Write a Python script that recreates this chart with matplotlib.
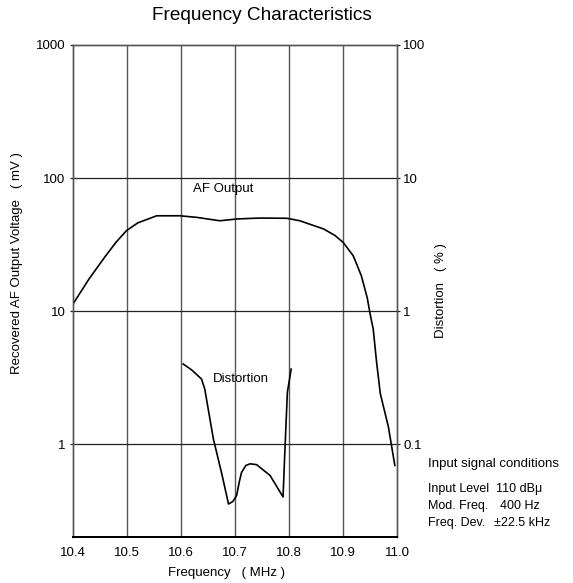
import matplotlib
matplotlib.use("Agg")
import matplotlib.pyplot as plt

plt.rcParams['font.family'] = ['Liberation Sans', 'DejaVu Sans']

# AF output (mV, left axis)
af_freq = [10.40, 10.43, 10.459, 10.48, 10.499, 10.52, 10.555, 10.598, 10.629, 10.672,
           10.703, 10.746, 10.796, 10.82, 10.864, 10.885, 10.90, 10.919, 10.934, 10.945,
           10.95, 10.956, 10.962, 10.969, 10.984, 10.996]
af_mv = [11.3, 17.5, 25.5, 33, 40.2, 46, 52, 52, 50.6, 47.7,
         49.2, 50, 49.8, 47.7, 41.4, 37, 32.9, 26, 18.4, 12.5,
         9.6, 7.3, 4.2, 2.4, 1.35, 0.69]

# Distortion (%, right axis)
dist_freq = [10.604, 10.62, 10.638, 10.644, 10.66, 10.675, 10.688, 10.696, 10.703, 10.708,
             10.712, 10.72, 10.728, 10.74, 10.765, 10.789, 10.792, 10.797, 10.804]
dist_pct = [0.40, 0.36, 0.308, 0.259, 0.109, 0.061, 0.0354, 0.037, 0.041, 0.052,
            0.061, 0.069, 0.071, 0.070, 0.058, 0.040, 0.0817, 0.245, 0.366]

x_ticks = [10.4, 10.5, 10.6, 10.7, 10.8, 10.9, 11.0]
x_labels = ['10.4', '10.5', '10.6', '10.7', '10.8', '10.9', '11.0']
left_ticks = [1, 10, 100, 1000]
left_labels = ['1', '10', '100', '1000']
right_ticks = [0.1, 1, 10, 100]
right_labels = ['0.1', '1', '10', '100']

FS = 9.5
fig = plt.figure(figsize=(5.73, 5.83), dpi=100)
ax = fig.add_axes([73/573, 1-537/583, (397-73)/573, (537-45)/583])
ax.set_yscale('log')
ax.set_xlim(10.4, 11.0)
ax.set_ylim(0.2, 1000)
grid_c = '#555555'
for x in x_ticks[1:-1]:
    ax.axvline(x, color=grid_c, lw=1.0, zorder=1)
for y in left_ticks[:-1]:
    ax.axhline(y, color='#222222', lw=0.9, zorder=1)
ax.plot(af_freq, af_mv, color='black', lw=1.2, zorder=3)

ax.set_xticks(x_ticks)
ax.set_xticklabels(x_labels)
ax.set_yticks(left_ticks)
ax.set_yticklabels(left_labels)
ax.minorticks_off()
ax.tick_params(axis='y', length=2.5, width=0.9, color='#222222', labelsize=FS, pad=3)
ax.tick_params(axis='x', length=0, labelsize=FS, pad=7.5)
for s in ax.spines.values():
    s.set_color(grid_c)
    s.set_linewidth(1.0)
ax.spines['bottom'].set_color('black')
ax.spines['bottom'].set_linewidth(1.4)

ax2 = ax.twinx()
ax2.set_yscale('log')
ax2.set_ylim(0.02, 100)
ax2.plot(dist_freq, dist_pct, color='black', lw=1.2, zorder=3)
ax2.set_yticks(right_ticks)
ax2.set_yticklabels(right_labels)
ax2.minorticks_off()
ax2.tick_params(length=2.5, width=0.9, color='#222222', labelsize=FS, pad=2)
for s in ax2.spines.values():
    s.set_color(grid_c)
    s.set_linewidth(1.0)
ax2.spines['bottom'].set_color('black')
ax2.spines['bottom'].set_linewidth(1.4)

ax.text(10.622, 82, 'AF Output', fontsize=FS, ha='left', va='center')
ax.text(10.659, 3.1, 'Distortion', fontsize=FS, ha='left', va='center')

fig.text(262/573, 1-16/583, 'Frequency Characteristics', fontsize=13.7,
         ha='center', va='center')
fig.text(17/573, 1-263/583, 'Recovered AF Output Voltage   ( mV )', fontsize=FS,
         rotation=90, ha='center', va='center')
fig.text(441/573, 1-291/583, 'Distortion   ( % )', fontsize=FS,
         rotation=90, ha='center', va='center')
fig.text(227/573, 1-573/583, 'Frequency   ( MHz )', fontsize=FS,
         ha='center', va='center')

fig.text(428/573, 1-464/583, 'Input signal conditions', fontsize=FS, ha='left', va='center')
rows = [('Input Level', '110 dBμ'), ('Mod. Freq.', '400 Hz'), ('Freq. Dev.', '±22.5 kHz')]
ys = [489, 506, 523]
xs2 = [496, 500, 494]
for (a, b), y, x2 in zip(rows, ys, xs2):
    fig.text(428/573, 1-y/583, a, fontsize=9.0, ha='left', va='center')
    fig.text(x2/573, 1-y/583, b, fontsize=9.0, ha='left', va='center')

fig.savefig('out.png', dpi=100)
